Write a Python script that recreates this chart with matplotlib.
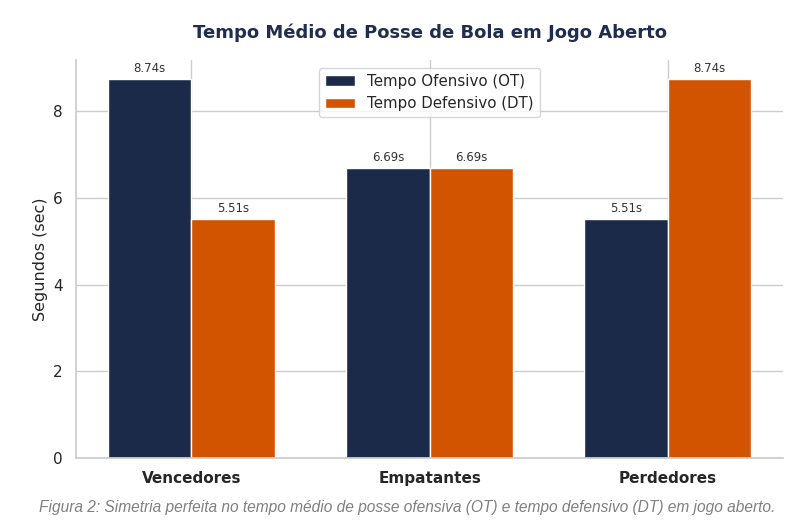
import matplotlib.pyplot as plt
import numpy as np
import seaborn as sns

categorias = ["Vencedores", "Empatantes", "Perdedores"]
tempo_ofensivo = [8.74, 6.69, 5.51]
tempo_defensivo = [5.51, 6.69, 8.74]
legenda = ["Tempo Ofensivo (OT)", "Tempo Defensivo (DT)"]

sns.set_theme(style="whitegrid")
plt.rcParams['font.family'] = ['DejaVu Sans']

fig = plt.figure(figsize=(8, 5.32), dpi=100)
ax = fig.add_axes([0.095, 0.139, 0.884, 0.748])

x = np.arange(len(categorias))
w = 0.35
b1 = ax.bar(x - w/2, tempo_ofensivo, w, color='#1c2a4a', edgecolor='white', linewidth=1, label=legenda[0])
b2 = ax.bar(x + w/2, tempo_defensivo, w, color='#d35400', edgecolor='white', linewidth=1, label=legenda[1])

for bars in (b1, b2):
    ax.bar_label(bars, labels=[f"{v:.2f}s" for v in bars.datavalues], padding=3, fontsize=8.5, color='#333333')

ax.set_xticks(x)
ax.set_xticklabels(categorias, fontweight='bold', fontsize=11)
ax.tick_params(axis='y', labelsize=11)
ax.set_ylabel("Segundos (sec)", fontsize=11.5)
ax.set_ylim(0, 9.18)
ax.set_title("Tempo Médio de Posse de Bola em Jogo Aberto", fontsize=13, fontweight='bold', color='#1f2d4e', pad=16)
ax.grid(axis='x', color='#cccccc')
ax.grid(axis='y', color='#cccccc')
sns.despine(ax=ax)
for s in ('left', 'bottom'):
    ax.spines[s].set_color('#cccccc')
ax.legend(loc='upper center', fontsize=10.8, frameon=True)

fig.text(0.509, 0.038, "Figura 2: Simetria perfeita no tempo médio de posse ofensiva (OT) e tempo defensivo (DT) em jogo aberto.",
         ha='center', fontsize=11.2, style='italic', color='#808080', family=['Liberation Sans', 'DejaVu Sans'])

fig.savefig("out.png", dpi=100)
